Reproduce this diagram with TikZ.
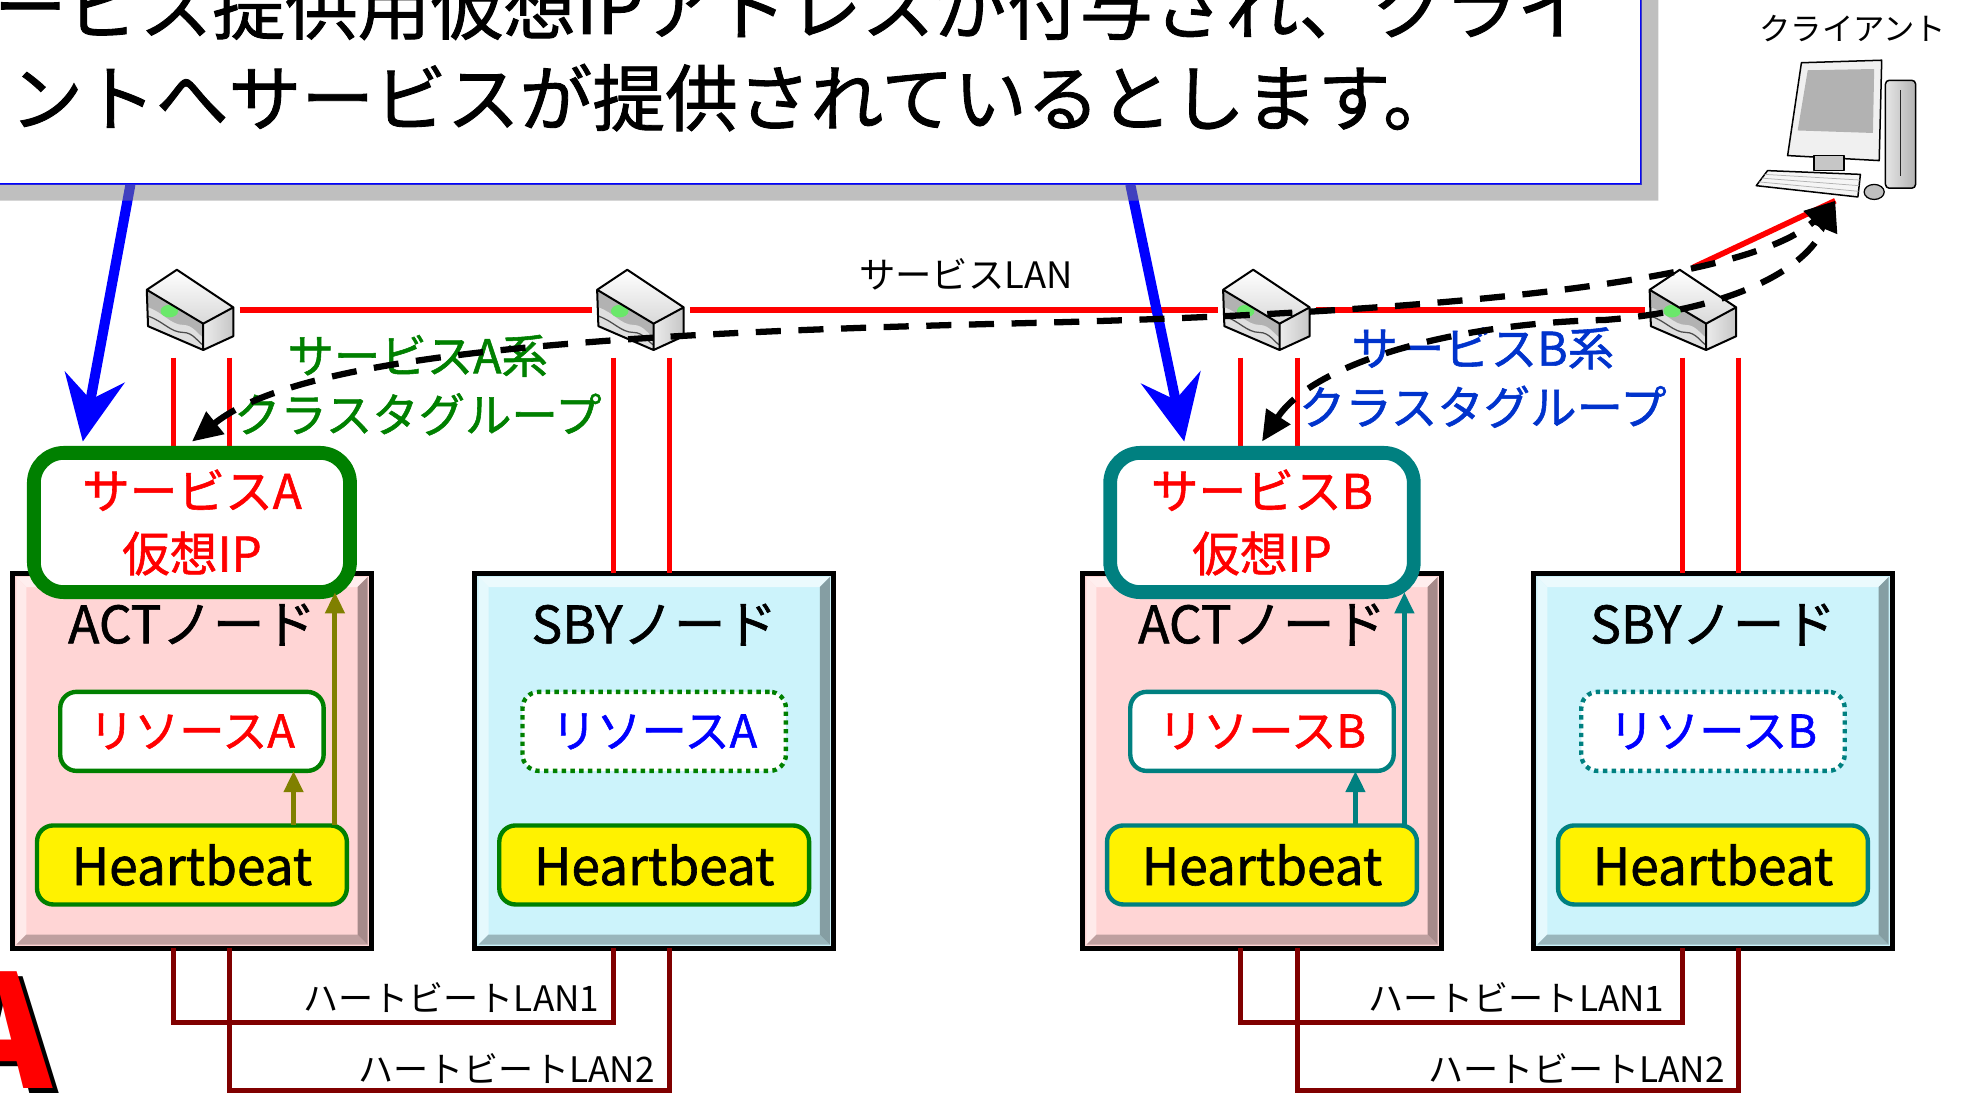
\documentclass[tikz,border=0pt]{standalone}
\usepackage{fontspec}
\setmainfont{Noto Sans CJK JP}
\usepackage{tikz}
\usetikzlibrary{positioning, arrows.meta, calc}
\definecolor{lan_red}{RGB}{255, 0, 0}
\definecolor{hb_red}{RGB}{128, 0, 0}
\definecolor{grp_green}{RGB}{0, 128, 0}
\definecolor{grp_teal}{RGB}{0, 128, 128}
\definecolor{grp_blue}{RGB}{0, 51, 204}
\definecolor{hb_olive}{RGB}{128, 128, 0}
\definecolor{act_pink}{RGB}{255, 213, 213}
\definecolor{sby_cyan}{RGB}{204, 243, 251}
\newcommand{\jsize}[2]{\fontsize{#1}{#2}\selectfont}
\newcommand{\heavy}{\addfontfeature{FakeBold=1.2}}

% switch icon, drawn round a hub node
\newcommand{\hubicon}[1]{%
  \begin{scope}[shift={(#1.center)}, line join=round]
    \fill[gray!60] (-35,-16) -- (10,11) -- (10,32) -- (-34,13) -- cycle;
    \fill[gray!25] (-34,-2) .. controls (-22,2) and (-16,12) .. (-6,12)
      .. controls (2,12) and (6,20) .. (10,22) -- (10,32) -- (-34,13) -- cycle;
    \fill[green!70!white, opacity=0.7] (-17,1) ellipse (7 and 5);
    \draw[black!70, line width=1pt] (-34,5) .. controls (-22,9) and (-16,18) .. (-6,18)
      .. controls (2,18) and (6,26) .. (10,28);
    \shade[top color=white, bottom color=gray!30] (-35,-16) -- (-11,-32) -- (34,-2) -- (10,11) -- cycle;
    \shade[left color=gray!15, right color=gray!45] (10,11) -- (34,-2) -- (34,21) -- (10,32) -- cycle;
    \draw[line width=1.6pt] (-35,-16) -- (-11,-32) -- (34,-2) -- (34,21) -- (10,32) -- (-34,13) -- cycle
      (-35,-16) -- (10,11) -- (34,-2) (10,11) -- (10,32);
  \end{scope}}

% bevelled frame of a host box
\newcommand{\nodebevel}[2]{%
  \path (#1.north west) ++(3pt,-3pt) coordinate (bo1) (#1.north east) ++(-3pt,-3pt) coordinate (bo2)
        (#1.south east) ++(-3pt,3pt) coordinate (bo3) (#1.south west) ++(3pt,3pt) coordinate (bo4)
        (#1.north west) ++(11pt,-11pt) coordinate (bi1) (#1.north east) ++(-11pt,-11pt) coordinate (bi2)
        (#1.south east) ++(-11pt,11pt) coordinate (bi3) (#1.south west) ++(11pt,11pt) coordinate (bi4);
  \fill[#2!40!white] (bo1) -- (bo2) -- (bi2) -- (bi1) -- cycle;
  \fill[#2!50!white] (bo1) -- (bi1) -- (bi4) -- (bo4) -- cycle;
  \fill[#2!75!black] (bo4) -- (bi4) -- (bi3) -- (bo3) -- cycle;
  \fill[#2!65!black] (bo2) -- (bo3) -- (bi3) -- (bi2) -- cycle;
  \draw[line width=4pt] (#1.north west) rectangle (#1.south east);}

\begin{document}
\begin{tikzpicture}[x=1pt, y=-1pt, font=\jsize{26pt}{31pt},
    memo/.style={draw=blue, line width=1.5pt, fill=white, outer sep=0pt,
      minimum width=1318pt, minimum height=170pt, anchor=south west},
    memoline/.style={font=\jsize{58pt}{75pt}\heavy, anchor=base west, inner sep=0pt},
    hub/.style={minimum width=78pt, minimum height=68pt, inner sep=0pt, outer sep=0pt},
    svclan/.style={draw=lan_red, line width=4.5pt},
    droplan/.style={draw=lan_red, line width=4pt, shorten <=4pt},
    hblan/.style={draw=hb_red, line width=4pt},
    host/.style={fill=#1, minimum width=286pt, minimum height=299pt, inner sep=0pt, outer sep=0pt},
    hosttitle/.style={font=\jsize{41pt}{48pt}\heavy, inner sep=0pt},
    vip/.style={draw=#1, line width=11pt, fill=white, rounded corners=24pt, minimum height=111pt,
      align=center, text=lan_red, font=\jsize{38pt}{50pt}\heavy, outer sep=0pt},
    res/.style={draw=#1, line width=3.5pt, fill=white, rounded corners=13pt,
      minimum width=210pt, minimum height=63pt, font=\jsize{36pt}{42pt}\heavy, outer sep=0pt},
    hb/.style={draw=#1, line width=3.5pt, fill=yellow, rounded corners=13pt,
      minimum width=247pt, minimum height=63pt, font=\jsize{41pt}{48pt}\heavy, outer sep=0pt},
    ctl/.style={draw=#1, line width=4pt, -{Triangle[length=17pt, width=15pt]}},
    toip/.style={draw=blue, line width=8pt, -{Stealth[length=52pt, width=48pt, inset=18pt]}},
    grp/.style={text=#1, align=center, font=\jsize{37pt}{47pt}\heavy},
    grppath/.style={line width=5pt, dash pattern=on 20pt off 14pt,
      {Triangle[length=24pt, width=22pt]}-{Triangle[length=24pt, width=22pt]}},
    lanlabel/.style={font=\jsize{28pt}{32pt}, anchor=base east, inner sep=0pt}]
  \useasboundingbox (0,0) rectangle (1568,871);

  % explanation box
  \node[memo] (memo) at (-10,147) {};
  \node[memoline] (memo1) at (-5,27) {ービス提供用仮想IPアドレスが付与され、クライ};
  \node[memoline] (memo2) at (8,100) {ントへサービスが提供されているとします。};

  \foreach \n/\x in {sw1/152, sw2/511, sw3/1010, sw4/1350}
    \node[hub] (\n) at (\x,247) {};

  % cluster nodes
  \node[host=act_pink] (actA) at (153,606.5) {};
  \node[host=sby_cyan] (sbyA) at (521.5,606.5) {};
  \node[host=act_pink] (actB) at (1006,606.5) {};
  \node[host=sby_cyan] (sbyB) at (1365.5,606.5) {};
  \foreach \h/\c in {actA/act_pink, sbyA/sby_cyan, actB/act_pink, sbyB/sby_cyan}
    \nodebevel{\h}{\c};

  \node[hosttitle, below=24pt of actA.north] (actAtitle) {ACTノード};
  \node[hosttitle, below=24pt of sbyA.north] (sbyAtitle) {SBYノード};
  \node[hosttitle, below=24pt of actB.north] (actBtitle) {ACTノード};
  \node[hosttitle, below=24pt of sbyB.north] (sbyBtitle) {SBYノード};

  \node[res=grp_green, text=lan_red] (actA-res) at ([yshift=23.5pt]actA.center) {リソースA};
  \node[res=grp_green, text=blue, dash pattern=on 3.5pt off 3.5pt] (sbyA-res) at ([yshift=23.5pt]sbyA.center) {リソースA};
  \node[res=grp_teal, text=lan_red] (actB-res) at ([yshift=23.5pt]actB.center) {リソースB};
  \node[res=grp_teal, text=blue, dash pattern=on 3.5pt off 3.5pt] (sbyB-res) at ([yshift=23.5pt]sbyB.center) {リソースB};

  \node[hb=grp_green] (actA-hb) at ([yshift=-83pt]actA.center) {Heartbeat};
  \node[hb=grp_green] (sbyA-hb) at ([yshift=-83pt]sbyA.center) {Heartbeat};
  \node[hb=grp_teal] (actB-hb) at ([yshift=-83pt]actB.center) {Heartbeat};
  \node[hb=grp_teal] (sbyB-hb) at ([yshift=-83pt]sbyB.center) {Heartbeat};

  % LAN ports under each host
  \path ([xshift=-15pt]actA.south) coordinate (actA-p1) ([xshift=30pt]actA.south) coordinate (actA-p2)
        ([xshift=-32.5pt]sbyA.south) coordinate (sbyA-p1) ([xshift=12.5pt]sbyA.south) coordinate (sbyA-p2)
        ([xshift=-17pt]actB.south) coordinate (actB-p1) ([xshift=28pt]actB.south) coordinate (actB-p2)
        ([xshift=-24.5pt]sbyB.south) coordinate (sbyB-p1) ([xshift=20pt]sbyB.south) coordinate (sbyB-p2);

  % service LAN
  \foreach \sw/\hst/\p in {sw1/actA/actA-p1, sw1/actA/actA-p2, sw2/sbyA/sbyA-p1, sw2/sbyA/sbyA-p2,
      sw3/actB/actB-p1, sw3/actB/actB-p2, sw4/sbyB/sbyB-p1, sw4/sbyB/sbyB-p2}
    \draw[droplan] (\sw.south -| \p) -- (\p |- \hst.north);
  \foreach \a/\b in {sw1/sw2, sw2/sw3, sw3/sw4}
    \draw[svclan] (\a) -- (\b);
  \coordinate (pcport) at (1463,160);
  \draw[svclan] (sw4.north) -- (pcport);
  \foreach \n in {sw1, sw2, sw3, sw4}
    \hubicon{\n};
  \node (svclanlabel) at (770,219) {\jsize{29pt}{34pt}サービスLAN};

  % virtual IPs
  \node[vip=grp_green, minimum width=252pt] (vipA) at (153,416.5) {サービスA\\仮想IP};
  \node[vip=grp_teal, minimum width=242pt] (vipB) at (1006,416.5) {サービスB\\仮想IP};

  \draw[toip] ([xshift=114pt]memo.south west) -- ([shift={(39pt,9pt)}]vipA.north west);
  \draw[toip] ([xshift=911pt]memo.south west) -- ([shift={(59pt,9pt)}]vipB.north west);
  \fill[gray, opacity=0.5] (memo.south west) -- ([yshift=-13pt]memo.south west)
    -- ([shift={(14pt,-13pt)}]memo.south east) -- ([xshift=14pt]memo.north east)
    -- (memo.north east) -- (memo.south east) -- cycle;

  \draw[ctl=hb_olive] ([xshift=81pt]actA-hb.north) -- ([xshift=81pt]actA-hb.north |- actA-res.south);
  \draw[ctl=hb_olive] ([xshift=114pt]actA-hb.north) -- ([xshift=114pt]actA-hb.north |- vipA.south);
  \draw[ctl=grp_teal] ([xshift=74.5pt]actB-hb.north) -- ([xshift=74.5pt]actB-hb.north |- actB-res.south);
  \draw[ctl=grp_teal] ([xshift=113.5pt]actB-hb.north) -- ([xshift=113.5pt]actB-hb.north |- vipB.south);

  % heartbeat LANs
  \draw[hblan] (actA-p1) -- ++(0,59) -| (sbyA-p1) coordinate[pos=0.5] (lanA1);
  \draw[hblan] (actA-p2) -- ++(0,113) -| (sbyA-p2) coordinate[pos=0.5] (lanA2);
  \draw[hblan] (actB-p1) -- ++(0,59) -| (sbyB-p1) coordinate[pos=0.5] (lanB1);
  \draw[hblan] (actB-p2) -- ++(0,113) -| (sbyB-p2) coordinate[pos=0.5] (lanB2);
  \node[lanlabel] (lanA1text) at ([shift={(-11pt,9pt)}]lanA1) {ハートビートLAN1};
  \node[lanlabel] (lanA2text) at ([shift={(-12pt,6pt)}]lanA2) {ハートビートLAN2};
  \node[lanlabel] (lanB1text) at ([shift={(-14pt,9pt)}]lanB1) {ハートビートLAN1};
  \node[lanlabel] (lanB2text) at ([shift={(-10.5pt,6pt)}]lanB2) {ハートビートLAN2};

  % cluster groups
  \node[grp=grp_green] (grpA) at (333,307) {サービスA系\\クラスタグループ};
  \node[grp=grp_blue] (grpB) at (1182,301) {サービスB系\\クラスタグループ};
  \draw[grppath] ([yshift=9pt]vipA.north) .. controls (240,282) and (480,266) .. (800,258)
    .. controls (1100,251) and (1390,230) .. (pcport);
  \draw[grppath] ([yshift=9pt]vipB.north) .. controls (1045,292) and (1150,258) .. (1280,255)
    .. controls (1380,247) and (1440,215) .. (pcport);

  % client PC
  \begin{scope}[line join=round]
    \shade[left color=gray!20, right color=gray!60, draw=black, line width=1.2pt, rounded corners=3pt]
      (1503,64) rectangle (1527,150);
    \draw[gray!30!black, line width=1pt] (1515,72) -- (1515,140);
    \fill[gray!12, draw=black, line width=1.2pt] (1436,50) -- (1500,48) -- (1498,128) -- (1425,124) -- cycle;
    \fill[gray!60] (1441,56) -- (1494,55) -- (1493,106) -- (1433,104) -- cycle;
    \fill[gray!45, draw=black, line width=1pt] (1446,124) rectangle (1470,136);
    \fill[gray!8, draw=black, line width=1.2pt] (1409,136) -- (1483,139) -- (1481,157) -- (1400,148) -- cycle;
    \foreach \k in {1,2,3}
      \draw[gray!60, line width=0.6pt] ($(1409,136)!\k/4!(1400,148)$) -- ($(1483,139)!\k/4!(1481,157)$);
    \fill[gray!50, draw=black, line width=1pt] (1494,153) ellipse (8 and 6);
  \end{scope}
  \node (clientlabel) at (1477,23) {\jsize{25pt}{30pt}クライアント};

  % logo corner
  \node[font=\bfseries\jsize{125pt}{130pt}, inner sep=0pt, anchor=base] (logoshade) at (5,872) {A};
  \node[font=\bfseries\jsize{125pt}{130pt}, inner sep=0pt, anchor=base, text=lan_red] (logo) at (0,868) {A};
\end{tikzpicture}
\end{document}
